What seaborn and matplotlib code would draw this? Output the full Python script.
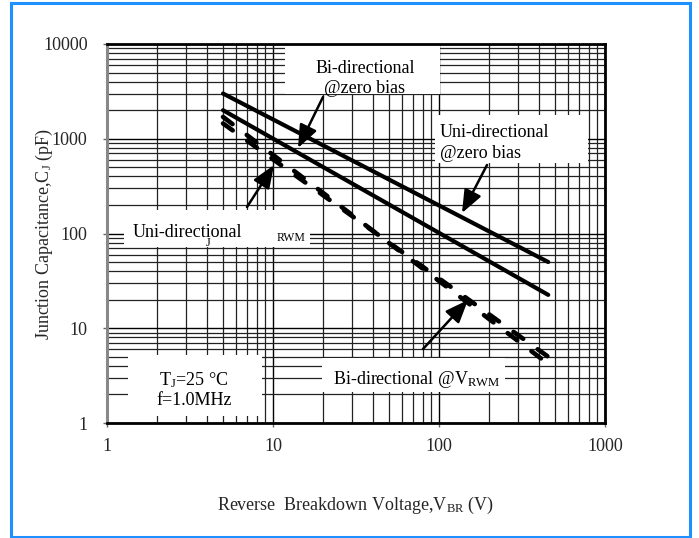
import numpy as np
import pandas as pd
import matplotlib
matplotlib.use("Agg")
import matplotlib.pyplot as plt
import seaborn as sns
from matplotlib.patches import Rectangle
from matplotlib.ticker import LogLocator, NullFormatter

# ---------------- data ----------------
voltage = [5, 455]                 # reverse breakdown voltage V_BR (V)
uni_zero_bias = [3000, 50]         # Uni-directional @ zero bias (pF)
bi_zero_bias = [2000, 22.5]        # Bi-directional @ zero bias (pF)
uni_vrwm = [1700, 4.2]             # Uni-directional @ V_RWM (pF)
bi_vrwm = [1450, 5.0]              # Bi-directional @ V_RWM (pF)

x_ticks = [1, 10, 100, 1000]
y_ticks = [1, 10, 100, 1000, 10000]
x_tick_labels = ["1", "10", "100", "1000"]
y_tick_labels = ["1", "10", "100", "1000", "10000"]

# ---------------- style ----------------
sns.set_style("white")
plt.rcParams["font.family"] = ["Liberation Serif", "DejaVu Serif"]
plt.rcParams["mathtext.fontset"] = "custom"
plt.rcParams["mathtext.rm"] = "Liberation Serif"
plt.rcParams["mathtext.it"] = "Liberation Serif:italic"
plt.rcParams["mathtext.bf"] = "Liberation Serif:bold"

W, H = 699, 538
fig = plt.figure(figsize=(W / 100, H / 100), dpi=100)
fig.patch.set_facecolor("white")

L, R, T, B = 107, 605, 44, 423
ax = fig.add_axes([L / W, 1 - B / H, (R - L) / W, (B - T) / H])
ax.set_facecolor("white")


def axf(px, py):
    """pixel (from top-left of figure) -> axes fraction"""
    return ((px - L) / (R - L), (B - py) / (B - T))


# blue frame around the figure
fig.patches.append(Rectangle((11 / W, 1 - 537 / H), (690 - 11) / W, (537 - 3) / H,
                             transform=fig.transFigure, fill=False,
                             ec="#1E90FF", lw=2.2, zorder=10))

df = pd.DataFrame({
    "V": voltage * 4,
    "C": uni_zero_bias + bi_zero_bias + uni_vrwm + bi_vrwm,
    "series": (["Uni-directional @zero bias"] * 2 + ["Bi-directional @zero bias"] * 2
               + ["Uni-directional @VRWM"] * 2 + ["Bi-directional @VRWM"] * 2),
})

ax.set_xscale("log")
ax.set_yscale("log")

for name in ["Uni-directional @zero bias", "Bi-directional @zero bias"]:
    sub = df[df["series"] == name]
    sns.lineplot(data=sub, x="V", y="C", ax=ax, color="black", lw=3.0,
                 solid_capstyle="round", zorder=3, legend=False)
for name in ["Uni-directional @VRWM", "Bi-directional @VRWM"]:
    sub = df[df["series"] == name]
    sns.lineplot(data=sub, x="V", y="C", ax=ax, color="black", lw=3.3,
                 linestyle=(0, (2.6, 3.9)), dash_capstyle="round",
                 zorder=3, legend=False)

ax.set_xlim(1, 1000)
ax.set_ylim(1, 10000)
ax.set_xticks(x_ticks, labels=x_tick_labels)
ax.set_yticks(y_ticks, labels=y_tick_labels)
ax.xaxis.set_minor_locator(LogLocator(base=10, subs=np.arange(2, 10)))
ax.yaxis.set_minor_locator(LogLocator(base=10, subs=np.arange(2, 10)))
ax.xaxis.set_minor_formatter(NullFormatter())
ax.yaxis.set_minor_formatter(NullFormatter())

ax.set_axisbelow(True)
ax.grid(which="major", color="black", lw=1.0)
ax.grid(which="minor", color="#222222", lw=0.9)
ax.tick_params(which="major", direction="out", length=3, width=1, color="#666666",
               labelsize=13)
ax.tick_params(axis="x", which="major", pad=8, bottom=True)
ax.tick_params(axis="y", which="major", pad=11, left=True)
ax.tick_params(which="minor", length=0)

for side in ["top", "right", "bottom"]:
    ax.spines[side].set_color("black")
    ax.spines[side].set_linewidth(2.0)
ax.spines["left"].set_color("#888888")
ax.spines["left"].set_linewidth(2.2)

ax.set_xlabel(r"Reverse  Breakdown Voltage,V$_{\rm BR}$ (V)", fontsize=13)
ax.set_ylabel(r"Junction Capacitance,C$_{\rm J}$ (pF)", fontsize=13)
ax.xaxis.label.set_va("center")
ax.yaxis.label.set_va("center")
ax.xaxis.set_label_coords(0.5, (B - 505) / (B - T))
ax.yaxis.set_label_coords((44 - L) / (R - L), 0.5)

# white annotation boxes (pixel extents)
boxes = [(285, 44, 440, 94), (435, 115, 588, 163), (124, 210, 310, 247),
         (128, 355, 262, 416), (322, 358, 505, 392)]
for x0, y0, x1, y1 in boxes:
    a0 = axf(x0, y1)
    a1 = axf(x1, y0)
    ax.add_patch(Rectangle(a0, a1[0] - a0[0], a1[1] - a0[1], transform=ax.transAxes,
                           fc="white", ec="none", zorder=2))

def txt(px, py, s, size=13, ha="left", va="baseline"):
    ax.text(*axf(px, py), s, transform=ax.transAxes, fontsize=size, ha=ha, va=va,
            zorder=5, color="black")

txt(365, 73, "Bi-directional", ha="center")
txt(365, 93, "@zero bias", ha="center")
txt(440, 137, "Uni-directional")
txt(440, 158, "@zero bias")
txt(133, 237, "Uni-directional")
txt(206, 246, "J", size=9)
txt(277, 241, "RWM", size=8.5)
txt(194, 385, r"T$_{\rm J}$=25 °C", ha="center")
txt(194, 405, "f=1.0MHz", ha="center")
txt(333, 384, r"Bi-directional @V$_{\rm RWM}$")

# arrows (start pixel, tip pixel)
arrows = [((323, 97), (298, 148)), ((487, 165), (462, 213)),
          ((247, 207), (274, 165)), ((423, 349), (468, 300))]
for (sx, sy), (ex, ey) in arrows:
    ax.annotate("", xy=axf(ex, ey), xycoords="axes fraction",
                xytext=axf(sx, sy), textcoords="axes fraction",
                arrowprops=dict(arrowstyle="-|>,head_length=0.7,head_width=0.28",
                                lw=1.8, color="black", shrinkA=0, shrinkB=0,
                                mutation_scale=20),
                zorder=6)

fig.savefig("out.png", dpi=100)
